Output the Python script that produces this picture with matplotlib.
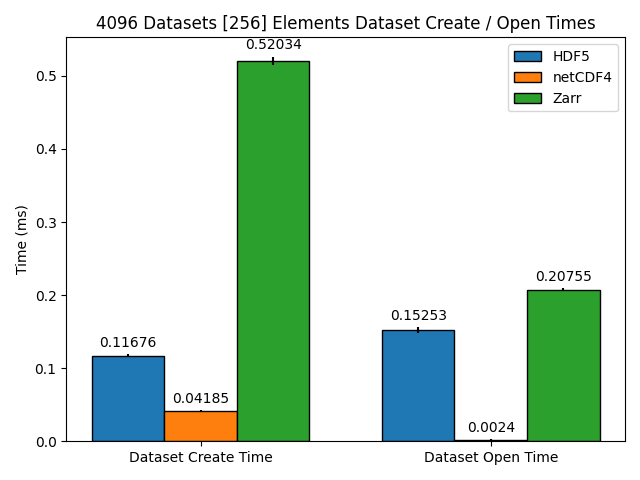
import numpy as np
import matplotlib
matplotlib.use('Agg')
import matplotlib.pyplot as plt

categories = ['Dataset Create Time', 'Dataset Open Time']
libraries = ['HDF5', 'netCDF4', 'Zarr']
hdf5_times = [0.11676, 0.15253]
netcdf4_times = [0.04185, 0.0024]
zarr_times = [0.52034, 0.20755]
hdf5_err = [0.002, 0.004]
netcdf4_err = [0.001, 0.0005]
zarr_err = [0.006, 0.002]

values = [hdf5_times, netcdf4_times, zarr_times]
errors = [hdf5_err, netcdf4_err, zarr_err]

fig, ax = plt.subplots(figsize=(6.4, 4.8), dpi=100)
x = np.arange(len(categories))
width = 0.25

for i, (lib, vals, errs) in enumerate(zip(libraries, values, errors)):
    bars = ax.bar(x + (i - 1) * width, vals, width, yerr=errs, label=lib,
                  edgecolor='black', ecolor='black')
    ax.bar_label(bars, labels=[f'{v:g}' for v in vals], padding=3)

ax.set_xticks(x)
ax.set_xticklabels(categories)
ax.set_ylabel('Time (ms)')
ax.set_title('4096 Datasets [256] Elements Dataset Create / Open Times')
ax.legend(loc='upper right')

plt.tight_layout()
plt.savefig('out.png', dpi=100)
